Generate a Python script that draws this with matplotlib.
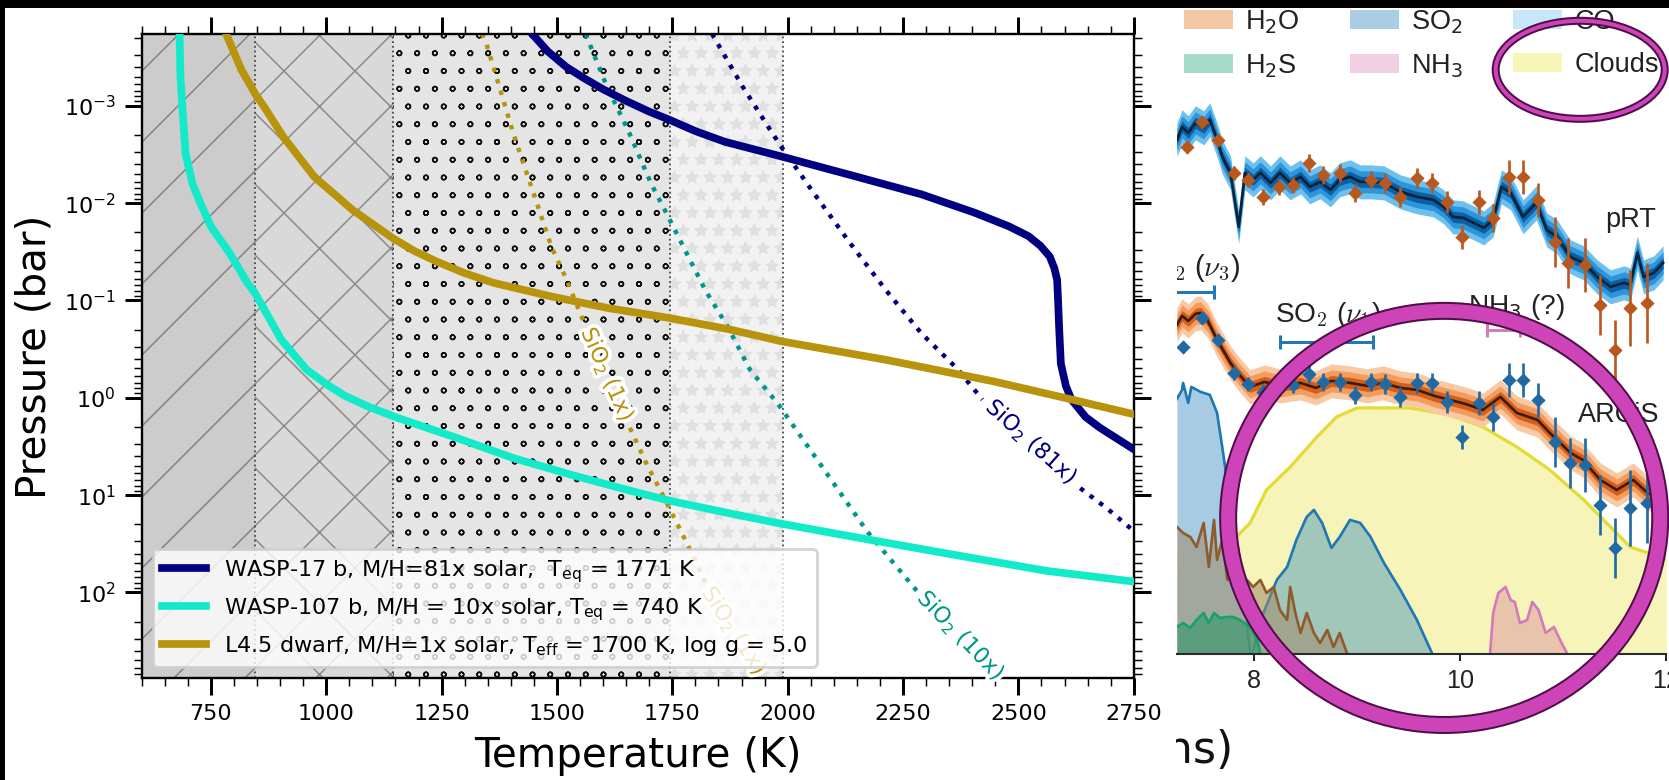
import numpy as np
import matplotlib
matplotlib.use("Agg")
import matplotlib.pyplot as plt
import matplotlib.hatch as mhatch
from matplotlib.patches import Patch, Ellipse, Rectangle
import matplotlib.patheffects as pe
from matplotlib.ticker import MultipleLocator, LogLocator, NullFormatter

plt.rcParams['font.family'] = ['DejaVu Sans']
plt.rcParams['hatch.linewidth'] = 0.5
mhatch.SmallCircles.size = 0.13   # smaller rings for the 'o' hatch

# ---------------- left panel data ----------------
zone_edges = [600, 845, 1145, 1745, 1990]
zone_faces = ["#cccccc", "#d9d9d9", "#e5e5e5", "#f2f2f2"]
zone_hatches = ["/", "x", "oo", "**"]
zone_hatch_colors = ["#808080", "#888888", "#111111", "#e0e0e0"]

T_w17 = [1446, 1480, 1520, 1560, 1600, 1650, 1700, 1742, 1800, 1864, 1986, 2135, 2290, 2406, 2480,
         2522, 2548, 2568, 2578, 2584, 2586, 2588, 2592, 2603, 2615, 2646, 2677, 2750]
logP_w17 = [-3.74, -3.56, -3.40, -3.28, -3.17, -3.05, -2.94, -2.86, -2.74, -2.63, -2.48, -2.29, -2.09,
            -1.90, -1.76, -1.66, -1.56, -1.45, -1.33, -1.21, -1.00, -0.75, -0.35, -0.12, 0.02, 0.20,
            0.31, 0.53]

T_w107 = [682, 684, 688, 695, 710, 727, 750, 790, 829, 845, 870, 902, 957, 1000, 1040, 1095, 1156, 1281,
          1405, 1529, 1654, 1745, 1876, 1980, 2189, 2367, 2561, 2750]
logP_w107 = [-3.74, -3.30, -3.00, -2.51, -2.20, -2.00, -1.76, -1.49, -1.18, -1.08, -0.87, -0.60, -0.29,
             -0.14, -0.02, 0.10, 0.21, 0.41, 0.62, 0.79, 0.95, 1.06, 1.19, 1.29, 1.47, 1.62, 1.78, 1.89]

T_l45 = [783, 816, 849, 864, 907, 974, 1057, 1144, 1190, 1239, 1300, 1363, 1488, 1612, 1742, 1876, 1986,
         2212, 2444, 2599, 2750]
logP_l45 = [-3.74, -3.37, -3.10, -3.00, -2.68, -2.27, -1.93, -1.64, -1.51, -1.40, -1.28, -1.18, -1.04,
            -0.92, -0.82, -0.70, -0.58, -0.39, -0.17, 0.00, 0.17]

# SiO2 condensation curves (visible segments between inline labels)
T_sio2_1x_a = [1337, 1347, 1405, 1455, 1488, 1521, 1558]
logP_sio2_1x_a = [-3.74, -3.64, -2.72, -2.02, -1.55, -1.21, -0.78]
T_sio2_1x_b = [1658, 1695, 1737, 1784, 1825]
logP_sio2_1x_b = [0.31, 0.69, 1.07, 1.52, 1.93]
T_sio2_10x = [1562, 1608, 1654, 1704, 1740, 1774, 1822, 1870, 1918, 1980, 2057, 2173, 2286]
logP_sio2_10x = [-3.74, -3.20, -2.75, -2.20, -1.87, -1.55, -1.10, -0.73, -0.29, 0.07, 0.59, 1.38, 2.02]
T_sio2_81x_a = [1836, 1902, 1957, 1986, 2057, 2135, 2212, 2290, 2367, 2422]
logP_sio2_81x_a = [-3.74, -3.20, -2.79, -2.58, -2.10, -1.59, -1.11, -0.66, -0.30, 0.02]
T_sio2_81x_b = [2634, 2690, 2750]
logP_sio2_81x_b = [0.93, 1.13, 1.37]

sio2_label_text = ["SiO$_2$ (1x)", "SiO$_2$ (1x)", "SiO$_2$ (10x)", "SiO$_2$ (81x)"]
sio2_label_T = [1608, 1883, 2375, 2528]
sio2_label_logP = [-0.235, 2.40, 2.45, 0.46]
sio2_label_rot = [-66, -57, -46, -42]

navy, aqua, gold, teal = "#000080", "#13eac9", "#b8930c", "#00968a"
sio2_label_col = [gold, gold, teal, navy]

legend_labels = [r"WASP-17 b, M/H=81x solar,  T$_{\rm eq}$ = 1771 K",
                 r"WASP-107 b, M/H = 10x solar, T$_{\rm eq}$ = 740 K",
                 r"L4.5 dwarf, M/H=1x solar, T$_{\rm eff}$ = 1700 K, log g = 5.0"]

# ---------------- right panel data (spectra) ----------------
prt_wl = [7.25, 7.30, 7.36, 7.43, 7.51, 7.57, 7.64, 7.69, 7.77, 7.85, 7.91, 7.99, 8.06, 8.16, 8.25, 8.35,
          8.45, 8.54, 8.64, 8.74, 8.83, 8.93, 9.03, 9.13, 9.26, 9.42, 9.58, 9.74, 9.84, 9.93, 10.03, 10.13,
          10.23, 10.32, 10.40, 10.49, 10.61, 10.74, 10.84, 10.94, 11.07, 11.20, 11.33, 11.46, 11.59, 11.65,
          11.72, 11.78, 11.88, 11.97]
prt_v = [5.14, 5.27, 5.21, 5.31, 5.26, 5.34, 5.14, 4.97, 4.81, 4.27, 4.81, 4.74, 4.81, 4.71, 4.81, 4.71,
         4.77, 4.67, 4.72, 4.64, 4.74, 4.77, 4.72, 4.72, 4.71, 4.62, 4.57, 4.54, 4.47, 4.37, 4.36, 4.31,
         4.26, 4.34, 4.67, 4.61, 4.37, 4.51, 4.24, 4.17, 3.97, 3.91, 3.77, 3.67, 3.71, 3.69, 4.01, 3.77,
         3.81, 3.91]
prt_pt_wl = [7.35, 7.49, 7.65, 7.80, 7.94, 8.09, 8.24, 8.38, 8.53, 8.67, 8.83, 8.98, 9.13, 9.27, 9.42,
             9.58, 9.73, 9.87, 10.02, 10.18, 10.32, 10.47, 10.61, 10.76, 10.92, 11.05, 11.21, 11.36, 11.50,
             11.65, 11.81]
prt_pt_v = [5.07, 5.32, 5.14, 4.81, 4.74, 4.57, 4.67, 4.69, 4.91, 4.79, 4.81, 4.61, 4.74, 4.71, 4.57,
            4.76, 4.71, 4.52, 4.17, 4.52, 4.36, 4.77, 4.77, 4.54, 4.12, 3.91, 3.89, 3.49, 3.04, 3.46, 3.51]
pt_err = [0.06, 0.06, 0.06, 0.07, 0.07, 0.08, 0.08, 0.08, 0.09, 0.09, 0.09, 0.09, 0.09, 0.10, 0.10, 0.10,
          0.10, 0.11, 0.12, 0.12, 0.14, 0.17, 0.17, 0.17, 0.25, 0.25, 0.27, 0.30, 0.30, 0.38, 0.40]

arc_wl = [7.25, 7.30, 7.36, 7.43, 7.48, 7.55, 7.64, 7.77, 7.85, 7.96, 8.10, 8.25, 8.45, 8.60, 8.75, 8.93,
          9.10, 9.25, 9.42, 9.58, 9.75, 9.90, 10.05, 10.22, 10.39, 10.55, 10.75, 10.87, 11.07, 11.19, 11.36,
          11.52, 11.68, 11.82, 11.97]
arc_v = [3.29, 3.38, 3.33, 3.40, 3.41, 3.33, 3.14, 2.91, 2.80, 2.67, 2.72, 2.68, 2.71, 2.66, 2.73, 2.71,
         2.68, 2.71, 2.66, 2.64, 2.58, 2.54, 2.50, 2.44, 2.57, 2.41, 2.34, 2.21, 2.01, 1.94, 1.74, 1.64,
         1.74, 1.61, 1.54]
arc_pt_wl = [7.31, 7.49, 7.65, 7.80, 7.94, 8.09, 8.24, 8.38, 8.53, 8.67, 8.83, 8.98, 9.13, 9.27, 9.42,
             9.58, 9.73, 9.87, 10.02, 10.18, 10.32, 10.47, 10.61, 10.76, 10.92, 11.07, 11.21, 11.36, 11.50,
             11.65, 11.81]
arc_pt_v = [3.07, 3.36, 3.14, 2.81, 2.70, 2.62, 2.66, 2.69, 2.80, 2.72, 2.72, 2.59, 2.72, 2.70, 2.57,
            2.71, 2.71, 2.52, 2.17, 2.51, 2.37, 2.74, 2.74, 2.54, 2.12, 1.91, 1.89, 1.49, 1.06, 1.46, 1.51]

cloud_wl = [7.25, 7.48, 7.77, 7.96, 8.12, 8.35, 8.61, 8.80, 9.00, 9.51, 9.90, 10.22, 10.55, 10.87, 11.20,
            11.46, 11.65, 11.97, 12.0]
cloud_v = [0.94, 1.01, 1.11, 1.31, 1.64, 1.87, 2.17, 2.37, 2.46, 2.46, 2.39, 2.27, 2.07, 1.84, 1.54, 1.27,
           1.07, 0.96, 0.95]
so2a_wl = [7.25, 7.30, 7.31, 7.36, 7.39, 7.48, 7.57, 7.64, 7.69, 7.76, 7.84, 7.91, 7.96]
so2a_v = [2.55, 2.64, 2.71, 2.51, 2.67, 2.62, 2.59, 2.41, 2.07, 1.57, 1.07, 0.57, 0.0]
so2b_wl = [7.98, 8.09, 8.22, 8.32, 8.41, 8.51, 8.58, 8.66, 8.75, 8.83, 8.93, 9.03, 9.13, 9.26, 9.42, 9.58,
           9.73]
so2b_v = [0.0, 0.41, 0.74, 0.87, 1.14, 1.37, 1.44, 1.31, 1.06, 1.17, 1.34, 1.31, 1.17, 0.91, 0.64, 0.34, 0.0]
h2o_wl = [7.25, 7.31, 7.38, 7.44, 7.51, 7.56, 7.61, 7.64, 7.69, 7.74, 7.80, 7.86, 7.93, 7.99, 8.06, 8.12,
          8.19, 8.25, 8.32, 8.35, 8.40, 8.45, 8.51, 8.58, 8.64, 8.71, 8.77, 8.83, 8.90]
h2o_v = [1.27, 1.21, 1.17, 1.07, 1.31, 0.87, 1.34, 0.94, 1.14, 0.74, 0.87, 0.71, 0.74, 0.67, 0.74, 0.61,
         0.67, 0.44, 0.34, 0.67, 0.41, 0.21, 0.41, 0.21, 0.11, 0.24, 0.07, 0.21, 0.01]
h2s_wl = [7.25, 7.31, 7.38, 7.44, 7.51, 7.56, 7.61, 7.67, 7.74, 7.80, 7.86, 7.96, 8.03, 8.06]
h2s_v = [0.27, 0.31, 0.26, 0.34, 0.41, 0.31, 0.41, 0.36, 0.37, 0.37, 0.34, 0.27, 0.14, 0.0]
nh3_wl = [10.29, 10.32, 10.37, 10.44, 10.49, 10.53, 10.58, 10.65, 10.70, 10.76, 10.83, 10.91, 10.97, 11.04]
nh3_v = [0.0, 0.41, 0.61, 0.67, 0.54, 0.52, 0.31, 0.34, 0.52, 0.44, 0.21, 0.27, 0.14, 0.0]

species = ["H$_2$O", "H$_2$S", "SO$_2$", "NH$_3$", "CO", "Clouds"]
species_col = ["#f4c7a6", "#a7dccc", "#a9cde4", "#f0d0e2", "#c6e7f7", "#f7f6b9"]

# ---------------- figure ----------------
W, H, DPI = 1669, 780, 213
fig = plt.figure(figsize=(W / DPI + 0.001, H / DPI + 0.001), dpi=DPI, facecolor="white")

ax = fig.add_axes([141.7 / W, 1 - 678 / H, (1133.6 - 141.7) / W, (678 - 34.5) / H])
for i in range(4):
    ax.axvspan(zone_edges[i], zone_edges[i + 1], facecolor=zone_faces[i],
               edgecolor=zone_hatch_colors[i], hatch=zone_hatches[i], linewidth=0, zorder=0)
for e in zone_edges[1:]:
    ax.axvline(e, color="#444444", ls=":", lw=0.6, zorder=0.5)

P = lambda lp: 10 ** np.asarray(lp)
ax.plot(T_w17, P(logP_w17), color=navy, lw=2.6, label=legend_labels[0], zorder=3)
ax.plot(T_w107, P(logP_w107), color=aqua, lw=2.6, label=legend_labels[1], zorder=3)
ax.plot(T_l45, P(logP_l45), color=gold, lw=2.6, label=legend_labels[2], zorder=3)

dots = (0, (1, 1.7))
for Ts, lps, c in [(T_sio2_1x_a, logP_sio2_1x_a, gold), (T_sio2_1x_b, logP_sio2_1x_b, gold),
                   (T_sio2_10x, logP_sio2_10x, teal),
                   (T_sio2_81x_a, logP_sio2_81x_a, navy), (T_sio2_81x_b, logP_sio2_81x_b, navy)]:
    ax.plot(Ts, P(lps), color=c, lw=1.5, ls=dots, zorder=2.5)
for txt, t, lp, r, c in zip(sio2_label_text, sio2_label_T, sio2_label_logP, sio2_label_rot, sio2_label_col):
    ax.text(t, 10 ** lp, txt, color=c, fontsize=7.5, rotation=r, rotation_mode="anchor",
            ha="center", va="center", zorder=4,
            path_effects=[pe.withStroke(linewidth=2.5, foreground="white")])

ax.set_xlim(600, 2750)
ax.set_yscale("log")
ax.set_ylim(760, 1.84e-4)
ax.xaxis.set_major_locator(MultipleLocator(250))
ax.xaxis.set_minor_locator(MultipleLocator(50))
ax.yaxis.set_major_locator(LogLocator(base=10, numticks=20))
ax.yaxis.set_minor_locator(LogLocator(base=10, subs=(2, 3, 4, 5, 6, 7, 8, 9), numticks=100))
ax.yaxis.set_minor_formatter(NullFormatter())
ax.tick_params(which="major", direction="out", length=5.8, width=1.0, top=True, right=True,
               labelsize=7.5, pad=3)
ax.tick_params(which="minor", direction="out", length=2.6, width=0.5, top=True, right=True)
for s in ax.spines.values():
    s.set_linewidth(0.8)
ax.set_xlabel("Temperature (K)", fontsize=13.7)
ax.set_ylabel("Pressure (bar)", fontsize=13.7, labelpad=3)
ax.legend(loc="lower left", fontsize=7.55, framealpha=0.8)

# ---------------- right panel ----------------
ax2 = fig.add_axes([1177 / W, 126 / H, 489 / W, 648 / H])
ax2.set_xlim(7.2524, 12.0)
ax2.set_ylim(0, 6.48)
ax2.patch.set_alpha(0)
for s in ["left", "right", "top"]:
    ax2.spines[s].set_visible(False)
ax2.spines["bottom"].set_linewidth(0.7)
ax2.spines["bottom"].set_color("#2a2a2a")
ax2.set_yticks([])
ax2.set_xticks([8, 10, 12])
ax2.set_xticklabels(["8", "10", "12"], fontfamily="Liberation Sans", fontsize=8.5, color="#222222")
ax2.tick_params(axis="x", direction="out", length=2.4, width=0.7, pad=2.5, color="#2a2a2a")

ax2.fill_between(cloud_wl, 0, cloud_v, color="#f6f4b8", zorder=1, lw=0)
ax2.plot(cloud_wl, cloud_v, color="#e3dc36", lw=1.1, zorder=1.1)
ax2.fill_between(so2a_wl, 0, so2a_v, color="#a6cbe2", zorder=1.5, lw=0)
ax2.plot(so2a_wl, so2a_v, color="#1f77b4", lw=0.9, zorder=1.6)
ax2.fill_between(so2b_wl, 0, so2b_v, color="#a0c7b9", zorder=1.5, lw=0)
ax2.plot(so2b_wl, so2b_v, color="#1f77b4", lw=0.9, zorder=1.6)
ax2.fill_between(h2o_wl, 0, h2o_v, color="#a08a6a", alpha=0.55, zorder=2, lw=0)
ax2.plot(h2o_wl, h2o_v, color="#8e5b2e", lw=0.9, zorder=2.1)
ax2.fill_between(h2s_wl, 0, h2s_v, color="#3f9a70", alpha=0.7, zorder=2.2, lw=0)
ax2.plot(h2s_wl, h2s_v, color="#16a36b", lw=0.9, zorder=2.3)
ax2.fill_between(nh3_wl, 0, nh3_v, color="#e8c4ad", zorder=1.5, lw=0)
ax2.plot(nh3_wl, nh3_v, color="#d57ab8", lw=0.9, zorder=1.6)

for half, c in [(0.17, "#6ec1ef"), (0.11, "#2d96da"), (0.055, "#0b5fa5")]:
    ax2.fill_between(prt_wl, np.array(prt_v) - half, np.array(prt_v) + half, color=c, lw=0, zorder=3)
ax2.plot(prt_wl, prt_v, color="#0b2238", lw=0.9, zorder=3.1)
for half, c in [(0.17, "#f9c9a3"), (0.11, "#f29d5f"), (0.055, "#d45f1a")]:
    ax2.fill_between(arc_wl, np.array(arc_v) - half, np.array(arc_v) + half, color=c, lw=0, zorder=3)
ax2.plot(arc_wl, arc_v, color="#3d1a08", lw=0.9, zorder=3.1)
ax2.errorbar(prt_pt_wl, prt_pt_v, yerr=pt_err, xerr=0.05, fmt="D", ms=2.2, color="#b8581f",
             lw=0.9, capsize=0, zorder=3.5)
ax2.errorbar(arc_pt_wl, arc_pt_v, yerr=pt_err, xerr=0.05, fmt="D", ms=2.2, color="#1f6aa5",
             lw=0.9, capsize=0, zorder=3.5)

rfont = dict(fontfamily="Liberation Sans", color="#222222")
ax2.text(11.41, 4.34, "pRT", fontsize=9.2, va="center", **rfont)
ax2.text(11.14, 2.39, "ARCiS", fontsize=9.2, va="center", **rfont)
ax2.errorbar([7.42], [3.62], xerr=[0.19], color="#1f77b4", lw=1.0, capsize=2.5, zorder=4)
ax2.text(7.86, 3.86, r"SO$_2$ ($\nu_3$)", fontsize=9.8, ha="right", va="center", clip_on=True,
         math_fontfamily="cm", **rfont)
ax2.errorbar([8.70], [3.12], xerr=[0.45], color="#1f77b4", lw=1.0, capsize=2.5, zorder=4)
ax2.text(8.20, 3.39, r"SO$_2$ ($\nu_1$)", fontsize=9.5, va="center", math_fontfamily="cm", **rfont)
ax2.errorbar([10.42], [3.24], xerr=[0.16], color="#d57ab8", lw=1.0, capsize=2.5, zorder=4)
ax2.text(10.08, 3.47, r"NH$_3$ (?)", fontsize=9.5, va="center", **rfont)

handles = [Patch(facecolor=c, edgecolor="none") for c in species_col]
leg2 = ax2.legend(handles, species, ncol=3, loc="upper left", bbox_to_anchor=(1184 / W, 1 - 8 / H),
                  bbox_transform=fig.transFigure, frameon=False, borderpad=0, borderaxespad=0,
                  handlelength=1.79, handleheight=0.69, handletextpad=0.45, columnspacing=1.85,
                  labelspacing=0.62, prop={"family": "Liberation Sans", "size": 9.2})
for t in leg2.get_texts():
    t.set_color("#222222")

# clipped x-axis label of the cropped spectrum figure
ax3 = fig.add_axes([1176 / W, 0, 493 / W, 1 - 6 / H])
ax3.axis("off")
ax3.text(0.1156, 0.038, "(microns)", transform=ax3.transAxes, ha="right", va="center",
         fontsize=15, clip_on=True, color="#111111")

# rings
for (cx, cy, w, h, t) in [(1444, 518, 432, 414, 18), (1580, 70, 169, 98, 8)]:
    lw_dark = t * 72 / DPI
    lw_mag = (t - 4) * 72 / DPI
    for lw, c in [(lw_dark, "#4e0e48"), (lw_mag, "#cc44b8")]:
        fig.add_artist(Ellipse((cx / W, 1 - cy / H), w / W, h / H, transform=fig.transFigure,
                               fill=False, edgecolor=c, lw=lw, zorder=20))

# black borders of the screenshot
fig.add_artist(Rectangle((0, 1 - 6 / H), 1, 6 / H, transform=fig.transFigure, color="black", zorder=30))
fig.add_artist(Rectangle((0, 0), 3 / W, 1, transform=fig.transFigure, color="black", zorder=30))

fig.savefig("out.png", dpi=DPI, facecolor="white")
